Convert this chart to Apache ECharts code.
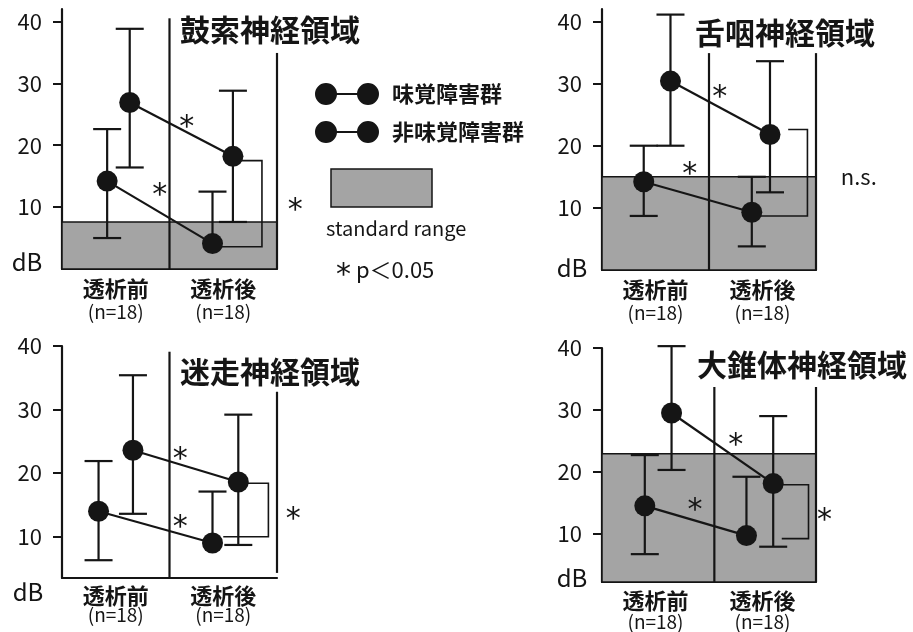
<!DOCTYPE html>
<html>
<head>
<meta charset="utf-8">
<script src="https://cdn.jsdelivr.net/npm/echarts@6/dist/echarts.min.js"></script>
<style>html,body{margin:0;background:#fff}#main{width:913px;height:632px}</style>
</head>
<body>
<div id="main"></div>
<script type="text/javascript">
  // データ
  var panelTitles = ['鼓索神経領域', '舌咽神経領域', '迷走神経領域', '大錐体神経領域'];
  var groupNames = ['味覚障害群', '非味覚障害群'];
  var phases = ['透析前', '透析後'];
  var nLabels = ['(n=18)', '(n=18)'];
  var yTicks = [10, 20, 30, 40];
  var yMin = [0, 0, 3.5, 2.2];
  var yMax = [42, 42, 40, 40];

  // 味覚障害群 [透析前, 透析後]
  var tasteX = [[0.63, 1.59], [0.64, 1.57], [0.66, 1.64], [0.65, 1.60]];
  var tasteMean = [[26.9, 18.2], [30.4, 21.8], [23.6, 18.6], [29.5, 18.1]];
  var tasteLow = [[16.4, 7.6], [20.0, 12.5], [13.6, 8.7], [20.3, 7.9]];
  var tasteHigh = [[38.8, 28.8], [41.1, 33.6], [35.4, 29.2], [40.3, 29.0]];
  // 非味覚障害群
  var nonX = [[0.42, 1.40], [0.39, 1.40], [0.34, 1.40], [0.40, 1.35]];
  var nonMean = [[14.2, 4.1], [14.2, 9.3], [14.0, 9.0], [14.5, 9.7]];
  var nonLow = [[5.0, null], [8.7, 3.8], [6.3, null], [6.7, null]];
  var nonHigh = [[22.6, 12.5], [20.0, 15.0], [21.9, 17.1], [22.7, 19.2]];

  // standard range 上限 (なし = null)
  var standardTop = [7.6, 15.0, null, 22.9];
  // 区切り線 [x, 下端, 上端]
  var dividers = [
    [[1, 0, 40.5], [2, 0, 34.9]],
    [[1, 0, 34.9], [2, 0, 34.9]],
    [[1, 3.5, 39.1], [2, 4.3, 32.8]],
    [[1.05, 2.2, 33.7], [2, 2.2, 33.7]]
  ];
  // 群間比較の括弧 [上x, 上y, 右x, 下y, 下x]
  var brackets = [
    [1.59, 17.5, 1.86, 3.6, 1.40],
    [1.74, 22.6, 1.92, 8.7, 1.45],
    [1.64, 18.4, 1.92, 10.0, 1.50],
    [1.68, 17.9, 1.93, 9.2, 1.68]
  ];
  // 有意差マーク [x, y, 文字]
  var marks = [
    [[1.16, 24.1, '*'], [0.91, 13.1, '*'], [2.17, 10.7, '*']],
    [[1.10, 29.0, '*'], [0.82, 16.6, '*'], [2.40, 15.0, 'n.s.']],
    [[1.10, 23.3, '*'], [1.10, 12.6, '*'], [2.15, 13.9, '*']],
    [[1.25, 25.5, '*'], [0.87, 15.0, '*'], [2.08, 13.3, '*']]
  ];

  var FONT = 'Noto Sans CJK JP';
  var INK = '#151515';
  var GRAY = '#a4a4a4';

  var grids = [
    {left: 62, top: 9, width: 215, height: 260},
    {left: 602, top: 9, width: 214, height: 261},
    {left: 62, top: 346, width: 215, height: 232},
    {left: 602, top: 348, width: 214, height: 234}
  ];
  var labelLH = [[24, 22], [24, 22], [20, 18], [22, 20]];
  var titlePos = [[180, 15], [695, 18], [180, 357], [697, 350]];
  var dbPos = [[27, 262], [572, 268], [28, 592], [572, 578]];

  var myChart = echarts.init(document.getElementById('main'));

  function renderErr(params, api) {
    var x = api.value(0);
    var mid = api.coord([x, api.value(3)]);
    var hi = api.coord([x, api.value(2)]);
    var w = 14;
    var st = {stroke: INK, lineWidth: 2.2};
    var kids = [
      {type: 'line', shape: {x1: mid[0], y1: mid[1], x2: hi[0], y2: hi[1]}, style: st},
      {type: 'line', shape: {x1: hi[0] - w, y1: hi[1], x2: hi[0] + w, y2: hi[1]}, style: st}
    ];
    var lowV = api.value(1);
    if (!isNaN(lowV)) {
      var lo = api.coord([x, lowV]);
      kids.push({type: 'line', shape: {x1: mid[0], y1: mid[1], x2: lo[0], y2: lo[1]}, style: st});
      kids.push({type: 'line', shape: {x1: lo[0] - w, y1: lo[1], x2: lo[0] + w, y2: lo[1]}, style: st});
    }
    return {type: 'group', children: kids};
  }

  var xAxes = [], yAxes = [], series = [], titles = [], graphics = [];

  for (var p = 0; p < 4; p++) {
    (function (p) {
      xAxes.push({
        gridIndex: p, type: 'value', min: 0, max: 2,
        axisLine: {lineStyle: {color: INK, width: 2.2}},
        axisTick: {show: false},
        splitLine: {show: false},
        axisLabel: {
          customValues: [0.5, 1.5], margin: 8, color: INK, fontFamily: FONT,
          formatter: function (v) {
            var i = v < 1 ? 0 : 1;
            return '{a|' + phases[i] + '}\n{b|' + nLabels[i] + '}';
          },
          rich: {
            a: {fontSize: 22, fontWeight: 'bold', lineHeight: labelLH[p][0], fontFamily: FONT, color: INK},
            b: {fontSize: 19, lineHeight: labelLH[p][1], fontFamily: FONT, color: INK}
          }
        }
      });
      yAxes.push({
        gridIndex: p, type: 'value', min: yMin[p], max: yMax[p],
        axisLine: {show: true, lineStyle: {color: INK, width: 2.2}},
        axisTick: {show: true, customValues: yTicks, length: 9, lineStyle: {color: INK, width: 2}},
        splitLine: {show: false},
        axisLabel: {customValues: yTicks, margin: 20, fontSize: 22, color: INK, fontFamily: FONT}
      });

      if (standardTop[p] !== null) {
        series.push({
          type: 'custom', xAxisIndex: p, yAxisIndex: p, z: 1, silent: true,
          data: [[yMin[p], standardTop[p]]],
          renderItem: function (params, api) {
            var a = api.coord([0, api.value(1)]);
            var b = api.coord([2, api.value(0)]);
            return {type: 'rect', shape: {x: a[0], y: a[1], width: b[0] - a[0], height: b[1] - a[1]},
              style: {fill: GRAY, stroke: INK, lineWidth: 1.5}};
          }
        });
      }
      series.push({
        type: 'custom', xAxisIndex: p, yAxisIndex: p, z: 2, silent: true,
        data: dividers[p],
        renderItem: function (params, api) {
          var a = api.coord([api.value(0), api.value(1)]);
          var b = api.coord([api.value(0), api.value(2)]);
          return {type: 'line', shape: {x1: a[0], y1: a[1], x2: b[0], y2: b[1]}, style: {stroke: INK, lineWidth: 2.2}};
        }
      });
      var errData = [];
      for (var k = 0; k < 2; k++) {
        errData.push([tasteX[p][k], tasteLow[p][k], tasteHigh[p][k], tasteMean[p][k]]);
        errData.push([nonX[p][k], nonLow[p][k], nonHigh[p][k], nonMean[p][k]]);
      }
      series.push({
        type: 'custom', xAxisIndex: p, yAxisIndex: p, z: 3, silent: true, clip: false,
        data: errData, renderItem: renderErr
      });
      series.push({
        name: groupNames[0], type: 'line', xAxisIndex: p, yAxisIndex: p, z: 4,
        data: [[tasteX[p][0], tasteMean[p][0]], [tasteX[p][1], tasteMean[p][1]]],
        symbol: 'circle', symbolSize: 21, color: INK,
        itemStyle: {color: INK}, lineStyle: {color: INK, width: 2.2}
      });
      series.push({
        name: groupNames[1], type: 'line', xAxisIndex: p, yAxisIndex: p, z: 4,
        data: [[nonX[p][0], nonMean[p][0]], [nonX[p][1], nonMean[p][1]]],
        symbol: 'circle', symbolSize: 21, color: INK,
        itemStyle: {color: INK}, lineStyle: {color: INK, width: 2.2}
      });
      series.push({
        type: 'custom', xAxisIndex: p, yAxisIndex: p, z: 3, silent: true, clip: false,
        data: [brackets[p]],
        renderItem: function (params, api) {
          var a = api.coord([api.value(0), api.value(1)]);
          var b = api.coord([api.value(2), api.value(1)]);
          var c = api.coord([api.value(2), api.value(3)]);
          var d = api.coord([api.value(4), api.value(3)]);
          return {type: 'polyline', shape: {points: [a, b, c, d]}, style: {stroke: INK, lineWidth: 1.6, fill: null}};
        }
      });
      series.push({
        type: 'custom', xAxisIndex: p, yAxisIndex: p, z: 5, silent: true, clip: false,
        data: marks[p],
        renderItem: function (params, api) {
          var t = marks[p][params.dataIndex][2];
          var c = api.coord([api.value(0), api.value(1)]);
          var star = t === '*';
          return {type: 'text', x: c[0], y: c[1] + (star ? 8 : 0),
            style: {text: t, fontSize: star ? 30 : 22, fontFamily: star ? 'DejaVu Sans' : FONT, fill: INK,
              align: 'center', verticalAlign: 'middle'}};
        }
      });

      titles.push({
        text: panelTitles[p], left: titlePos[p][0], top: titlePos[p][1], padding: 0,
        textStyle: {fontSize: 30, fontWeight: 'bold', fontFamily: FONT, color: INK}
      });
      graphics.push({
        type: 'text', x: dbPos[p][0], y: dbPos[p][1],
        style: {text: 'dB', fontSize: 24, fontFamily: FONT, fill: INK, align: 'center', verticalAlign: 'middle'}
      });
    })(p);
  }

  graphics.push({type: 'rect', shape: {x: 331, y: 169, width: 101, height: 38},
    style: {fill: GRAY, stroke: INK, lineWidth: 1.5}});
  graphics.push({type: 'text', x: 326, y: 228,
    style: {text: 'standard range', fontSize: 20, fontFamily: FONT, fill: INK, verticalAlign: 'middle'}});
  graphics.push({type: 'text', x: 336, y: 270,
    style: {text: '{s|*} p＜0.05', verticalAlign: 'middle', fill: INK,
      rich: {s: {fontSize: 30, fontFamily: 'DejaVu Sans', fill: INK, padding: [12, 0, 0, 0]}},
      fontSize: 22, fontFamily: FONT}});

  var option = {
    backgroundColor: '#fff',
    animation: false,
    title: titles,
    legend: {
      data: groupNames, orient: 'vertical', left: 310, top: 78, itemGap: 16,
      itemWidth: 64, itemHeight: 22, selectedMode: false,
      icon: 'path://M11,0A11,11,0,1,1,11,22A11,11,0,1,1,11,0ZM53,0A11,11,0,1,1,53,22A11,11,0,1,1,53,0ZM20,10L44,10L44,12L20,12Z',
      textStyle: {fontSize: 22, fontWeight: 'bold', fontFamily: FONT, color: INK, padding: [0, 0, 0, 8]}
    },
    grid: grids,
    xAxis: xAxes,
    yAxis: yAxes,
    graphic: graphics,
    series: series
  };
  myChart.setOption(option);
</script>
</body>
</html>
